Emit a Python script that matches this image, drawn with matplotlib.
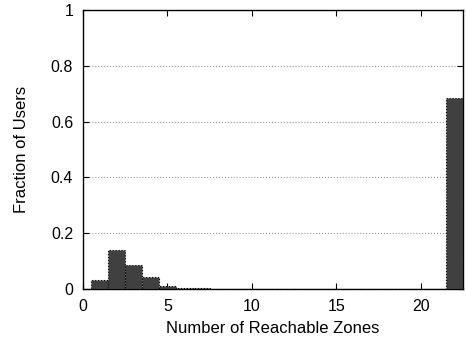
import matplotlib
matplotlib.use("Agg")
import matplotlib.pyplot as plt
import numpy as np

plt.rcParams['font.family'] = ['Liberation Sans', 'DejaVu Sans']

# data
zones = list(range(1, 23))
fraction = [0.034, 0.140, 0.086, 0.043, 0.012, 0.004, 0.002, 0.001, 0.001, 0.0005,
            0.001, 0.001, 0.0005, 0.0005, 0.0005, 0.0005, 0.0005, 0.0005, 0.0005, 0.0005,
            0.0005, 0.685]
yticks = [0, 0.2, 0.4, 0.6, 0.8, 1]
ytick_labels = ["0", "0.2", "0.4", "0.6", "0.8", "1"]
xticks = [0, 5, 10, 15, 20]

fig = plt.figure(figsize=(4.66, 3.41), dpi=100)
ax = fig.add_axes([0.178, 0.1525, 0.8156, 0.818])

ax.bar(zones, fraction, width=1.0, color="#404040", edgecolor="black",
       linewidth=0.8, linestyle=":", zorder=3)

ax.set_xlim(0, 22.5)
ax.set_ylim(0, 1)
ax.set_xticks(xticks)
ax.set_yticks(yticks)
ax.set_yticklabels(ytick_labels)
ax.yaxis.grid(True, color="#999999", linestyle=":", linewidth=0.8, zorder=0)
ax.tick_params(direction="in", length=4, labelsize=11.5, top=True, right=True, pad=7)
for s in ax.spines.values():
    s.set_linewidth(1.0)

ax.set_xlabel("Number of Reachable Zones", fontsize=12, labelpad=5)
ax.set_ylabel("Fraction of Users", fontsize=12, labelpad=16)

fig.savefig("out.png", dpi=100)
